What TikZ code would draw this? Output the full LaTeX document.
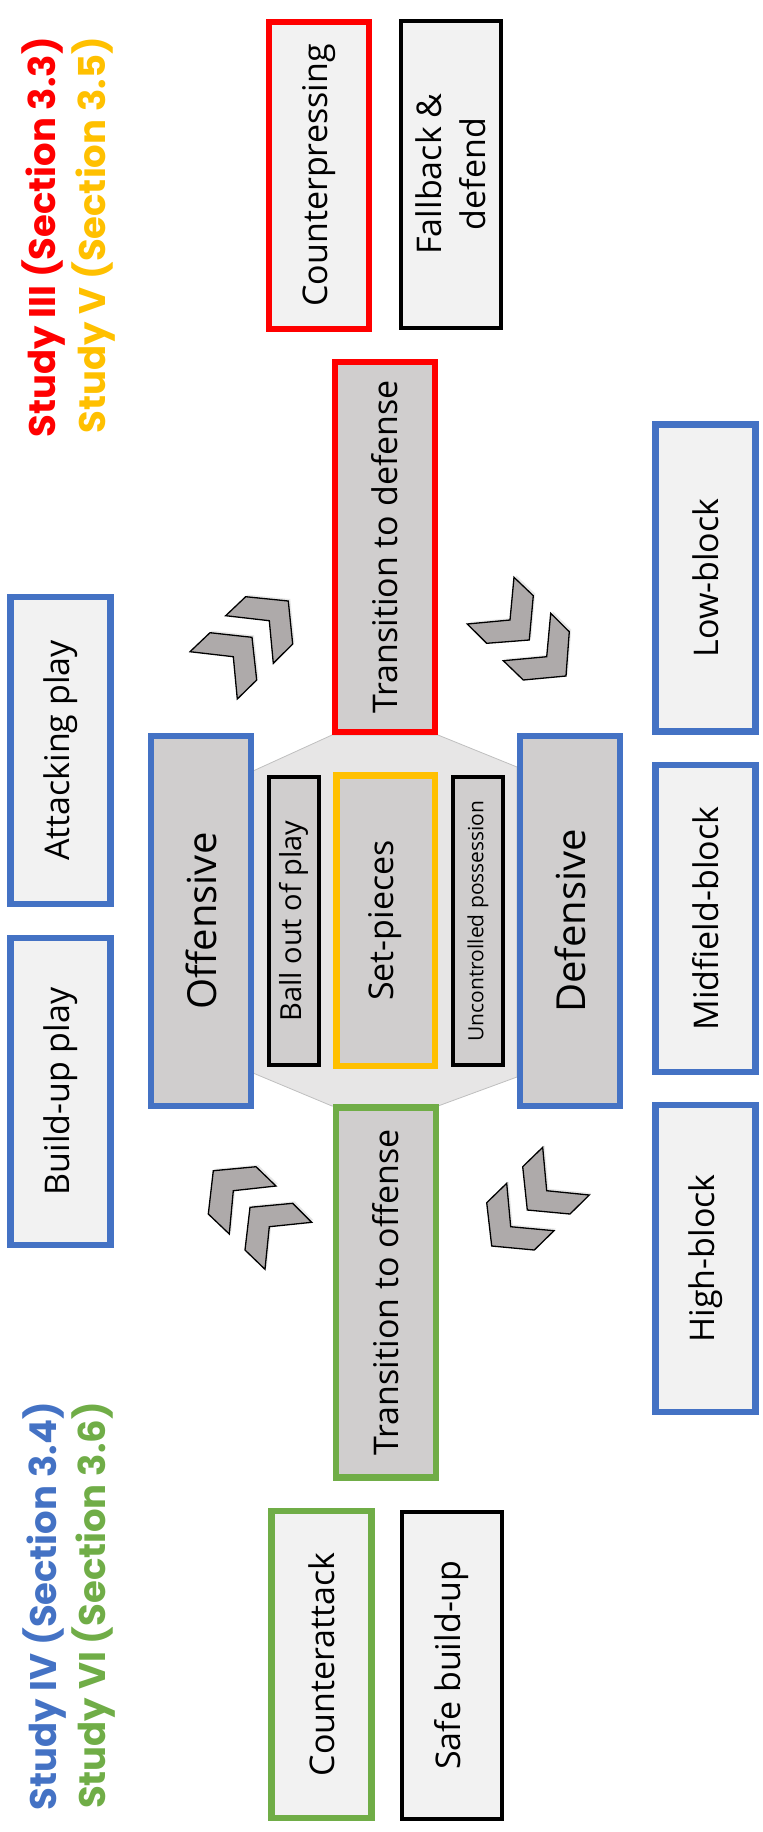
\documentclass[tikz,border=0pt]{standalone}
\usepackage{fontspec}
\setmainfont{Open Sans}
\newfontfamily\studyfont{Poppins}
\usetikzlibrary{shadows}

\begin{document}
\begin{tikzpicture}
	[x=1pt,y=-1pt,line join=miter,
	%Styles
	box/.style={draw,rotate=90,inner sep=0pt,align=center,
		drop shadow={opacity=.18,shadow xshift=2pt,shadow yshift=-2pt},
		font=\fontsize{34}{44}\selectfont},
	thick border/.style={line width=6.5pt},
	thin border/.style={line width=4pt},
	outer box/.style={box,fill=lightfill,minimum width=307pt,minimum height=100pt},
	phase box/.style={box,thick border,fill=phasefill,minimum width=370pt,minimum height=100pt},
	inner box/.style={box,thin border,draw=black,fill=phasefill,minimum width=288pt,minimum height=50pt},
	study text/.style={rotate=90,inner sep=0pt,anchor=east,
		font=\studyfont\bfseries\fontsize{37}{42}\selectfont},
	chevron/.style={fill=chevfill,draw=black,line width=1.3pt,
		drop shadow={opacity=.18,shadow xshift=2pt,shadow yshift=2pt}},
	hexagon/.style={fill=hexfill,draw=hexline,line width=.8pt}
	]
	
	%Colors
	\definecolor{sblue}{HTML}{4472C4}
	\definecolor{sred}{HTML}{FF0000}
	\definecolor{syellow}{HTML}{FFC000}
	\definecolor{sgreen}{HTML}{70AD47}
	\definecolor{phasefill}{HTML}{D0CECE}
	\definecolor{lightfill}{HTML}{F2F2F2}
	\definecolor{hexfill}{HTML}{E7E6E6}
	\definecolor{hexline}{HTML}{BFBFBF}
	\definecolor{chevfill}{HTML}{AEAAAA}
	
	\useasboundingbox (0,0) rectangle (763,1832);
	
	%Centre hexagon
	\filldraw[hexagon] (253,771) -- (332,735) -- (438,735) -- (517,767)
		-- (517,1077) -- (438,1106) -- (332,1106) -- (253,1073) -- cycle;
	
	%Phases
	\node[phase box,draw=sred] (todef) at (385,547) {Transition to defense};
	\node[phase box,draw=sgreen] (tooff) at (386,1292.5) {Transition to offense};
	\node[phase box,draw=sblue,font=\fontsize{40}{48}\selectfont] (off) at (201,921) {Offensive};
	\node[phase box,draw=sblue,font=\fontsize{40}{48}\selectfont] (def) at (570,921) {Defensive};
	
	\node[inner box,font=\fontsize{29}{34}\selectfont] (ballout) at (293.5,921) {Ball out of play};
	\node[box,thick border,draw=syellow,fill=phasefill,minimum width=290.5pt,minimum height=98.5pt] (setp) at (385.5,920.5) {Set-pieces};
	\node[inner box,font=\fontsize{21}{24}\selectfont] (uncon) at (478,921) {Uncontrolled possession};
	
	%Tactics
	\node[outer box,thick border,draw=sred] (cpress) at (319,175.5) {Counterpressing};
	\node[outer box,thin border,draw=black] (fallb) at (450.5,174) {Fallback \&\\defend};
	\node[outer box,thick border,draw=sblue] (attack) at (60.5,750.5) {Attacking play};
	\node[outer box,thick border,draw=sblue] (buildup) at (60.5,1091.5) {Build-up play};
	\node[outer box,thick border,draw=sblue] (lowb) at (705.5,578) {Low-block};
	\node[outer box,thick border,draw=sblue] (midb) at (705.5,918.5) {Midfield-block};
	\node[outer box,thick border,draw=sblue] (highb) at (705.5,1258.5) {High-block};
	\node[outer box,thick border,draw=sgreen] (cattack) at (321.5,1664.5) {Counterattack};
	\node[outer box,thin border,draw=black] (safeb) at (452,1665) {Safe build-up};
	
	%Studies
	\node[study text,text=sred] (s3) at (44,37) {Study III (Section 3.3)};
	\node[study text,text=syellow] (s5) at (93.5,37) {Study V (Section 3.5)};
	\node[study text,text=sblue] (s4) at (45,1402) {Study IV (Section 3.4)};
	\node[study text,text=sgreen] (s6) at (93.5,1402) {Study VI (Section 3.6)};
	
	%Chevrons
	\filldraw[chevron] (225.7,615.7) -- (245.7,596.7) -- (288.3,601) -- (292.7,644) -- (273.3,663.3) -- (269.3,620.7) -- cycle;
	\filldraw[chevron] (190,651.7) -- (210,632.7) -- (252,637.3) -- (256.7,680) -- (237.3,699) -- (233.3,656.7) -- cycle;
	
	\filldraw[chevron] (467.3,624) -- (510,620) -- (514,577.3) -- (533.3,595.7) -- (529.3,640) -- (486.7,643.3) -- cycle;
	\filldraw[chevron] (503.3,660.7) -- (546.7,656.7) -- (550.7,613.3) -- (569.3,631.7) -- (566,676) -- (523.3,680) -- cycle;
	
	\filldraw[chevron] (213.3,1170.7) -- (256,1166.7) -- (276,1186) -- (233.3,1190.7) -- (229.3,1234) -- (208.3,1214) -- cycle;
	\filldraw[chevron] (250,1207.3) -- (292.7,1203.3) -- (311.7,1222.3) -- (269.3,1226.7) -- (265,1269.3) -- (245,1250) -- cycle;
	
	\filldraw[chevron] (522.7,1166.7) -- (542.7,1147.3) -- (546.7,1190.7) -- (589.3,1195) -- (570,1214) -- (527.3,1210) -- cycle;
	\filldraw[chevron] (486.7,1202.7) -- (506.7,1183.3) -- (510.7,1226.7) -- (554,1230.7) -- (534.3,1250) -- (491.7,1246) -- cycle;
\end{tikzpicture}
\end{document}
